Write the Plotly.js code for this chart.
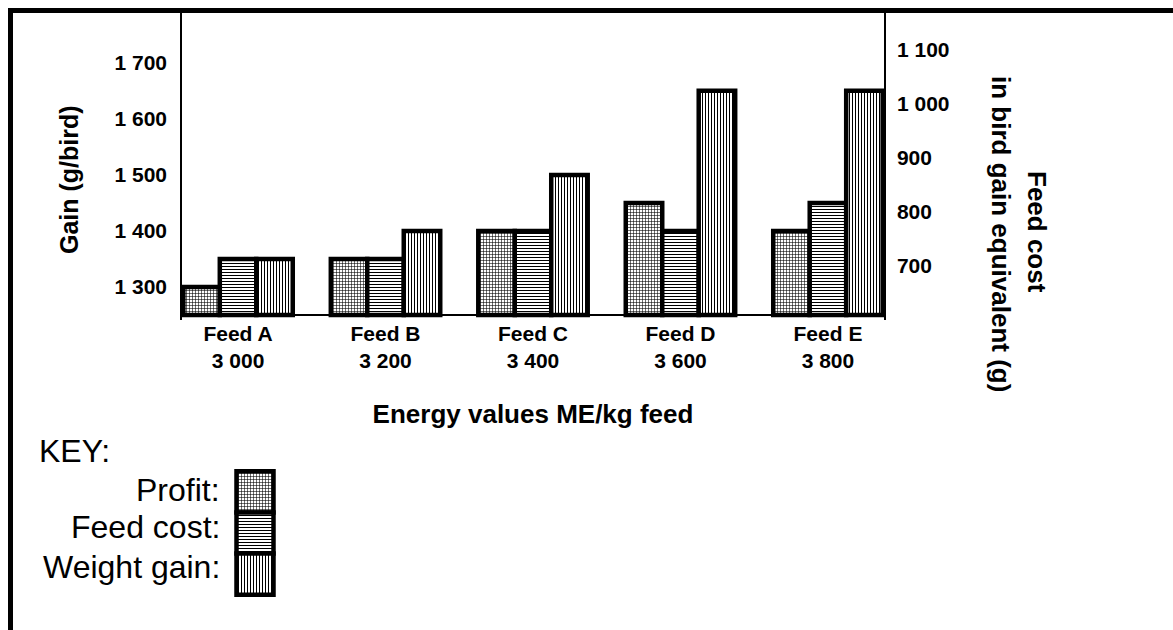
<!DOCTYPE html>
<html>
<head>
<meta charset="utf-8">
<script src="https://cdn.plot.ly/plotly-3.0.1.min.js"></script>
<style>html,body{margin:0;padding:0;background:#fff;}#chart{width:1173px;height:630px;}</style>
</head>
<body>
<div id="chart"></div>
<script>
// ---- data ----
const CATEGORIES = ['Feed A', 'Feed B', 'Feed C', 'Feed D', 'Feed E'];
const ENERGY = ['3 000', '3 200', '3 400', '3 600', '3 800'];
const PROFIT = [1300, 1350, 1400, 1450, 1400];
const FEED_COST = [1350, 1350, 1400, 1400, 1450];
const WEIGHT_GAIN = [1350, 1400, 1500, 1650, 1650];
const LEFT_TICKS = [1300, 1400, 1500, 1600, 1700];
const LEFT_TICK_TEXT = ['1 300', '1 400', '1 500', '1 600', '1 700'];
const RIGHT_TICKS = [700, 800, 900, 1000, 1100];
const RIGHT_TICK_TEXT = ['700', '800', '900', '1 000', '1 100'];
const SERIES_NAMES = ['Profit', 'Feed cost', 'Weight gain'];
const KEY_LABELS = ['Profit:', 'Feed cost:', 'Weight gain:'];
const BASE = 1250;

// ---- helpers (pixel -> paper) ----
const W = 1173, H = 630;
const pxX = v => v / W;
const pxY = v => 1 - v / H;

const FONT = 'Liberation Sans, Arial, Helvetica, sans-serif';
const PATTERNS = ['+', '-', '|'];
const seriesValues = [PROFIT, FEED_COST, WEIGHT_GAIN];
const PAT = {fgcolor: 'black', bgcolor: 'white', size: 3, solidity: 0.34, fillmode: 'replace'};

const traces = seriesValues.map((vals, i) => ({
  type: 'bar',
  name: SERIES_NAMES[i],
  x: CATEGORIES,
  y: vals.map(v => v - BASE),
  base: BASE,
  customdata: vals,
  hovertemplate: '%{x}: %{customdata}<extra>' + SERIES_NAMES[i] + '</extra>',
  marker: {
    color: 'white',
    line: {color: 'black', width: 4.5},
    pattern: Object.assign({shape: PATTERNS[i]}, PAT)
  },
  showlegend: false
}));

// invisible trace so the right-hand axis is drawn
traces.push({
  type: 'scatter', mode: 'markers',
  x: [CATEGORIES[0]], y: [RIGHT_TICKS[0]],
  yaxis: 'y2', marker: {opacity: 0}, hoverinfo: 'skip', showlegend: false
});

// key column (legend drawn as a small bar stack)
traces.push({
  type: 'bar',
  x: KEY_LABELS.map(() => 0),
  y: KEY_LABELS.map(() => 1),
  base: KEY_LABELS.map((_, i) => KEY_LABELS.length - 1 - i),
  width: 0.881,
  xaxis: 'x2',
  yaxis: 'y3',
  hoverinfo: 'skip',
  marker: {
    color: 'white',
    line: {color: 'black', width: 4.5},
    pattern: Object.assign({shape: PATTERNS}, PAT)
  },
  showlegend: false
});

const tickFont = {family: FONT, size: 21, color: 'black', weight: 'bold'};
const titleFont = {family: FONT, size: 26, color: 'black', weight: 'bold'};
const leftTitleFont = {family: FONT, size: 25, color: 'black', weight: 'bold'};
const keyFont = {family: FONT, size: 32, color: 'black'};

const layout = {
  width: W, height: H,
  margin: {l: 0, r: 0, t: 0, b: 0, pad: 0},
  paper_bgcolor: 'white',
  plot_bgcolor: 'rgba(0,0,0,0)',
  barmode: 'group',
  bargap: 0.258,
  bargroupgap: 0,
  showlegend: false,
  font: {family: FONT, color: 'black'},
  xaxis: {
    domain: [pxX(182), pxX(884)],
    anchor: 'y',
    type: 'category',
    range: [-0.38, 4.38],
    tickvals: CATEGORIES,
    ticktext: CATEGORIES.map((c, i) => c + '<br>' + ENERGY[i]),
    tickfont: tickFont,
    ticks: '',
    showline: false,
    showgrid: false,
    zeroline: false,
    ticklabelstandoff: -1,
    title: {text: 'Energy values ME/kg feed', font: titleFont, standoff: 33},
    fixedrange: true
  },
  yaxis: {
    domain: [pxY(320), pxY(13)],
    anchor: 'x',
    range: [1241, 1789],
    tickvals: LEFT_TICKS,
    ticktext: LEFT_TICK_TEXT,
    tickfont: tickFont,
    ticks: '',
    showline: true,
    linecolor: 'black',
    linewidth: 1.5,
    showgrid: false,
    zeroline: false,
    ticklabelstandoff: 9,
    fixedrange: true
  },
  yaxis2: {
    overlaying: 'y',
    side: 'right',
    anchor: 'x',
    range: [600, 1168.5],
    tickvals: RIGHT_TICKS,
    ticktext: RIGHT_TICK_TEXT,
    tickfont: tickFont,
    ticks: '',
    showline: true,
    linecolor: 'black',
    linewidth: 1.5,
    showgrid: false,
    zeroline: false,
    ticklabelstandoff: 7,
    fixedrange: true
  },
  xaxis2: {
    domain: [pxX(234), pxX(276)],
    anchor: 'y3',
    range: [-0.5, 0.5],
    visible: false,
    fixedrange: true
  },
  yaxis3: {
    domain: [pxY(597), pxY(469)],
    anchor: 'x2',
    range: [-0.055, 3.055],
    visible: false,
    fixedrange: true
  },
  shapes: [
    // x axis line at the bar base
    {type: 'line', xref: 'x domain', x0: 0, x1: 1, yref: 'y', y0: BASE, y1: BASE,
     line: {color: 'black', width: 2}, layer: 'below'},
    // outer frame: top and left
    {type: 'line', xref: 'paper', yref: 'paper', x0: pxX(8), x1: 1, y0: pxY(10.5), y1: pxY(10.5),
     line: {color: 'black', width: 5}},
    {type: 'line', xref: 'paper', yref: 'paper', x0: pxX(10.5), x1: pxX(10.5), y0: 0, y1: pxY(8),
     line: {color: 'black', width: 5}}
  ],
  annotations: [
    {text: 'Gain (g/bird)', xref: 'paper', yref: 'paper', x: pxX(69), y: pxY(180),
     xanchor: 'center', yanchor: 'middle', textangle: -90, showarrow: false, font: leftTitleFont},
    {text: 'Feed cost', xref: 'paper', yref: 'paper', x: pxX(1037), y: pxY(232),
     xanchor: 'center', yanchor: 'middle', textangle: 90, showarrow: false, font: titleFont},
    {text: 'in bird gain equivalent (g)', xref: 'paper', yref: 'paper', x: pxX(1001), y: pxY(234),
     xanchor: 'center', yanchor: 'middle', textangle: 90, showarrow: false, font: titleFont},
    {text: 'KEY:', xref: 'paper', yref: 'paper', x: pxX(37), y: pxY(451),
     xanchor: 'left', yanchor: 'middle', showarrow: false, font: keyFont},
    ...KEY_LABELS.map((t, i) => ({
      text: t, xref: 'paper', yref: 'paper', x: pxX(222), y: pxY([490, 527, 567][i]),
      xanchor: 'right', yanchor: 'middle', showarrow: false, font: keyFont
    }))
  ]
};

Plotly.newPlot('chart', traces, layout, {displayModeBar: false, responsive: false});
</script>
</body>
</html>
